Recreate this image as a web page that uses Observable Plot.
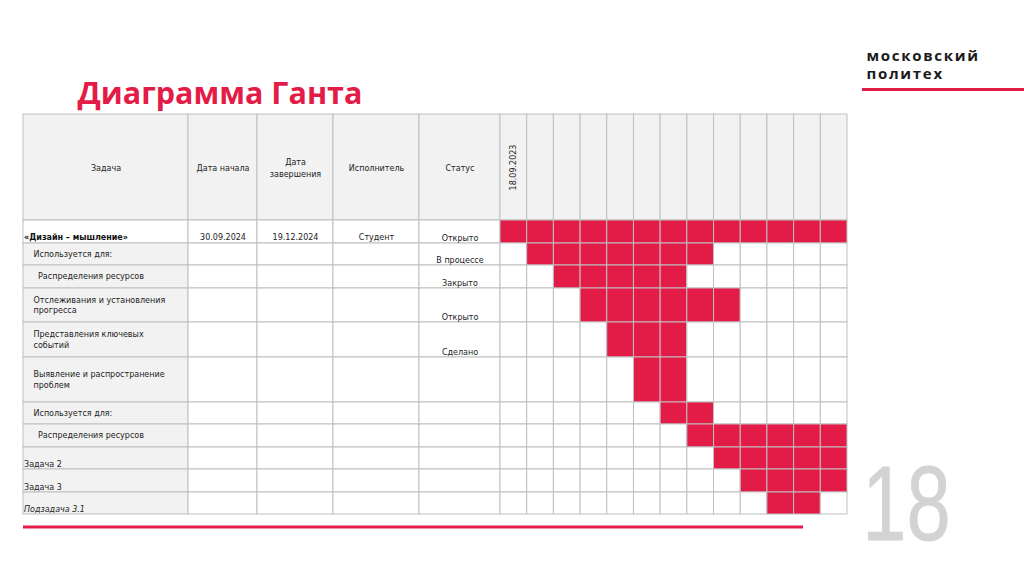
<!DOCTYPE html>
<html><head><meta charset="utf-8">
<script src="https://cdn.jsdelivr.net/npm/d3@7"></script>
<script src="https://cdn.jsdelivr.net/npm/@observablehq/plot@0.6"></script>
<style>html,body{margin:0;padding:0;background:#fff;} g.logo text{letter-spacing:1.7px;}</style>
</head><body><div id="chart"></div>
<script>
// ---- data ----
const headers = ["Задача", "Дата начала", "Дата\nзавершения", "Исполнитель", "Статус"];
const periodLabels = ["18.09.2023", "", "", "", "", "", "", "", "", "", "", "", ""];
const tasks = ["«Дизайн – мышление»", "Используется для:", " Распределения ресурсов", "Отслеживания и установления\nпрогресса", "Представления ключевых\nсобытий", "Выявление и распространение\nпроблем", "Используется для:", " Распределения ресурсов", "Задача 2", "Задача 3", "Подзадача 3.1"];
const startDates = ["30.09.2024", "", "", "", "", "", "", "", "", "", ""];
const endDates = ["19.12.2024", "", "", "", "", "", "", "", "", "", ""];
const owners = ["Студент", "", "", "", "", "", "", "", "", "", ""];
const statuses = ["Открыто", "В процессе", "Закрыто", "Открыто", "Сделано", "", "", "", "", "", ""];
const barStart = [0, 1, 2, 3, 4, 5, 6, 7, 8, 9, 10]; // first period index
const barEnd   = [12, 7, 6, 8, 6, 6, 7, 12, 12, 12, 11]; // last period index
const taskIndent = [0, 1, 2, 1, 1, 1, 1, 2, 0, 0, 0];
const taskStyle = ["bold", "normal", "normal", "normal", "normal", "normal", "normal", "normal", "bottom", "bottom", "italic"];
const logoLines = ["московский", "политех"];
const pageNumber = "18";

// ---- layout (slide frame in px units) ----
const colEdges = [23, 188, 257, 333, 419, 500];
const tlX0 = 500, tlX1 = 847, nPeriods = periodLabels.length;
const periodW = (tlX1 - tlX0) / nPeriods;
const headTop = 114, headBottom = 220;
const rowEdges = [220, 243, 265, 288, 322, 357, 402, 424, 447, 469, 492, 514];
const red = "#e31c47", gridC = "#bfbfbf", grey = "#f2f2f2";
const font = "DejaVu Sans";

const rows = tasks.map((t, i) => ({
  i, task: t, start: startDates[i], end: endDates[i], owner: owners[i], status: statuses[i],
  y1: rowEdges[i], y2: rowEdges[i + 1], s: barStart[i], e: barEnd[i], indent: taskIndent[i], style: taskStyle[i]
}));

// background cells
const bg = [];
for (let c = 0; c < colEdges.length - 1; c++) bg.push({x1: colEdges[c], x2: colEdges[c + 1], y1: headTop, y2: headBottom, fill: grey});
for (let p = 0; p < nPeriods; p++) bg.push({x1: tlX0 + p * periodW, x2: tlX0 + (p + 1) * periodW, y1: headTop, y2: headBottom, fill: grey});
rows.forEach(r => {
  bg.push({x1: colEdges[0], x2: colEdges[1], y1: r.y1, y2: r.y2, fill: r.i === 0 ? "#fff" : grey});
  for (let c = 1; c < colEdges.length - 1; c++) bg.push({x1: colEdges[c], x2: colEdges[c + 1], y1: r.y1, y2: r.y2, fill: "#fff"});
  for (let p = 0; p < nPeriods; p++) bg.push({x1: tlX0 + p * periodW, x2: tlX0 + (p + 1) * periodW, y1: r.y1, y2: r.y2, fill: (p >= r.s && p <= r.e) ? red : "#fff"});
});

const headerText = headers.map((h, c) => ({x: (colEdges[c] + colEdges[c + 1]) / 2, y: (headTop + headBottom) / 2, t: h}));
const periodText = periodLabels.map((l, p) => ({x: tlX0 + (p + 0.5) * periodW, y: (headTop + headBottom) / 2, t: l})).filter(d => d.t);

const centerCol = (c) => (colEdges[c] + colEdges[c + 1]) / 2;
const taskText = rows.map(r => ({
  x: colEdges[0] + (r.indent === 0 ? 0.5 : r.indent === 1 ? 10 : 12),
  y: (r.style === "bottom" || r.style === "italic") ? r.y2 - 5.5 : (r.i === 0 ? r.y2 - 6 : (r.y1 + r.y2) / 2 - 1),
  t: r.task, style: r.style
}));
const cellText = [];
rows.forEach(r => {
  if (r.start) cellText.push({x: centerCol(1), y: r.y2 - 6, t: r.start});
  if (r.end) cellText.push({x: centerCol(2), y: r.y2 - 6, t: r.end});
  if (r.owner) cellText.push({x: centerCol(3), y: r.y2 - 6, t: r.owner});
  if (r.status) cellText.push({x: centerCol(4), y: r.y2 - 5, t: r.status});
});
const logo = logoLines.map((t, k) => ({x: 866, y: 55.5 + k * 18, t}));

const chart = Plot.plot({
  width: 1024, height: 574, margin: 0,
  x: {domain: [0, 1024], range: [0, 1024], axis: null},
  y: {domain: [0, 574], range: [0, 574], axis: null},
  style: {fontFamily: font, background: "#fff"},
  marks: [
    Plot.rect(bg, {x1: "x1", x2: "x2", y1: "y1", y2: "y2", fill: d => d.fill, stroke: gridC, strokeWidth: 1}),
    Plot.text(headerText, {x: "x", y: "y", text: "t", fontSize: 8, fill: "#222", lineHeight: 1.4}),
    Plot.text(periodText, {x: "x", y: "y", text: "t", fontSize: 8, fill: "#222", rotate: -90}),
    Plot.text(taskText.filter(d => d.style === "bold"), {x: "x", y: "y", text: "t", fontSize: 8, fontWeight: "bold", textAnchor: "start", fill: "#111"}),
    Plot.text(taskText.filter(d => d.style === "normal" || d.style === "bottom"), {x: "x", y: "y", text: "t", fontSize: 8, textAnchor: "start", fill: "#222", lineHeight: 1.35}),
    Plot.text(taskText.filter(d => d.style === "italic"), {x: "x", y: "y", text: "t", fontSize: 8, fontStyle: "italic", textAnchor: "start", fill: "#222"}),
    Plot.text(cellText, {x: "x", y: "y", text: "t", fontSize: 8, fill: "#222"}),
    // title & decorations
    Plot.text(["Диаграмма Ганта"], {x: 77, y: 94, text: d => d, textAnchor: "start", fontSize: 30.5, fontWeight: "bold", fill: red, fontFamily: "Open Sans"}),
    Plot.text(logo, {x: "x", y: "y", text: "t", textAnchor: "start", fontSize: 15, fontWeight: "bold", fill: "#1a1a1a", fontFamily: "Open Sans", className: "logo"}),
    Plot.ruleY([89], {x1: 862, x2: 1024, stroke: red, strokeWidth: 3}),
    Plot.ruleY([526.5], {x1: 23, x2: 803, stroke: red, strokeWidth: 3}),
    Plot.text([pageNumber], {x: 862, y: 506, text: d => d, textAnchor: "start", fontSize: 106, fontWeight: 400, fill: "#d3d3d3", stroke: "#d3d3d3", strokeWidth: 0.8, fontFamily: "Liberation Sans", className: "bignum"})
  ]
});
d3.select(chart).selectAll("g.bignum").attr("transform", "translate(863,0) scale(0.75,1) translate(-863,0)");
document.getElementById("chart").append(chart);
</script></body></html>
